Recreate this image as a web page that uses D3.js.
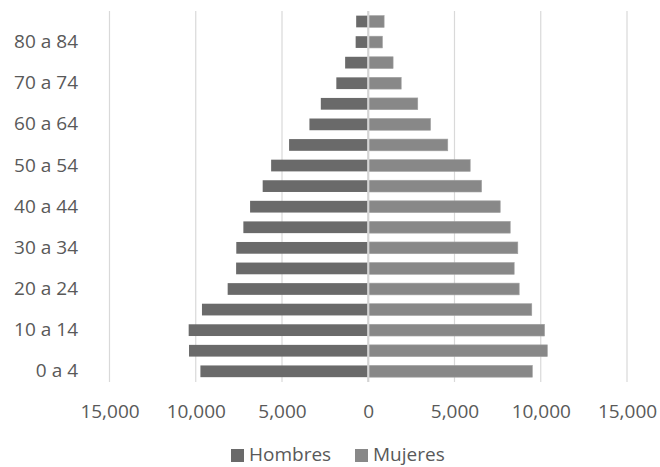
<!DOCTYPE html>
<html><head><meta charset="utf-8">
<script src="https://cdn.jsdelivr.net/npm/d3@7/dist/d3.min.js"></script>
<style>
body{margin:0;background:#fff;}
text{font-family:"Open Sans",sans-serif;fill:#595959;}
</style></head>
<body><svg id="c" width="660" height="467"></svg>
<script>
const categories = ["0 a 4","5 a 9","10 a 14","15 a 19","20 a 24","25 a 29","30 a 34","35 a 39","40 a 44","45 a 49","50 a 54","55 a 59","60 a 64","65 a 69","70 a 74","75 a 79","80 a 84","85 y más"];
const hombres = [9730,10390,10410,9640,8150,7660,7650,7240,6850,6120,5630,4590,3410,2750,1850,1340,730,700];
const mujeres = [9510,10380,10220,9480,8750,8460,8670,8230,7650,6570,5910,4610,3610,2870,1910,1440,820,920];
const xTicks = [-15000,-10000,-5000,0,5000,10000,15000];
const seriesNames = ["Hombres","Mujeres"];
const colors = ["#6a6a6a","#888888"];

const svg = d3.select("#c");
const x = d3.scaleLinear().domain([-15000,15000]).range([109.5,627]);
const y = d3.scaleBand().domain(categories.slice().reverse()).range([11.2,381.6]).paddingInner(0.43).paddingOuter(0.215);

// gridlines
svg.append("g").selectAll("line").data(xTicks.filter(d=>d!==0)).join("line")
  .attr("x1",d=>x(d)).attr("x2",d=>x(d)).attr("y1",11).attr("y2",382)
  .attr("stroke","#d9d9d9").attr("stroke-width",1.2);

// bars
const rows = categories.map((c,i)=>({c, h:hombres[i], m:mujeres[i]}));
svg.append("g").selectAll("rect").data(rows).join("rect")
  .attr("x",d=>x(-d.h)).attr("width",d=>x(0)-x(-d.h))
  .attr("y",d=>y(d.c)).attr("height",y.bandwidth())
  .attr("fill",colors[0]);
svg.append("g").selectAll("rect").data(rows).join("rect")
  .attr("x",x(0)).attr("width",d=>x(d.m)-x(0))
  .attr("y",d=>y(d.c)).attr("height",y.bandwidth())
  .attr("fill",colors[1]).attr("stroke","#a0a0a0").attr("stroke-width",0.6);

// zero axis line
svg.append("line").attr("x1",x(0)).attr("x2",x(0)).attr("y1",11).attr("y2",382)
  .attr("stroke","#d4d4d4").attr("stroke-width",2.2);

// x axis labels
const xa = svg.append("g").attr("transform","translate(0,404)")
  .call(d3.axisBottom(x).tickValues(xTicks).tickSize(0).tickPadding(0).tickFormat(d=>d3.format(",")(Math.abs(d))));
xa.select(".domain").remove();
xa.selectAll("text").attr("font-size",19).attr("fill","#595959").style("font-family","Open Sans");

// y axis labels
const ya = svg.append("g").attr("transform","translate(78,0)")
  .call(d3.axisLeft(y).tickValues(categories.filter((c,i)=>i%2===0)).tickSize(0).tickPadding(0));
ya.select(".domain").remove();
ya.selectAll("text").attr("font-size",19).attr("fill","#595959").style("font-family","Open Sans");

// legend
const leg = svg.append("g");
const lx = [231,355];
seriesNames.forEach((n,i)=>{
  leg.append("rect").attr("x",lx[i]).attr("y",449).attr("width",13).attr("height",13).attr("fill",colors[i]);
  leg.append("text").attr("x",lx[i]+18).attr("y",461).attr("font-size",19).text(n);
});
</script></body></html>
